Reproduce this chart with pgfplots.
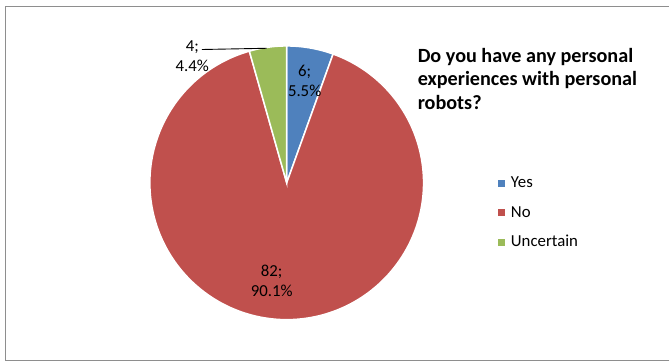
\documentclass[border=0pt]{standalone}
\usepackage{pgfplots}
\usepackage{pgfplotstable}
\pgfplotsset{compat=1.18}
\usepackage{fontspec}
\setmainfont{Carlito}
\definecolor{cyes}{HTML}{4F81BD}
\definecolor{cno}{HTML}{C0504D}
\definecolor{cunc}{HTML}{9BBB59}
\definecolor{frame}{HTML}{8E8E8E}

\pgfplotstableread{
label count pct
Yes 6 5.5
No 82 90.1
Uncertain 4 4.4
}\piedata

\begin{document}
\begin{tikzpicture}[x=1pt,y=1pt]
\path (0,0) rectangle (670,363);
\draw[color=frame, line width=1.4pt] (670,2) -- (5.5,2) -- (5.5,356.5) -- (670,356.5);
\pgfplotstablegetelem{0}{pct}\of\piedata \let\pa\pgfplotsretval
\pgfplotstablegetelem{1}{pct}\of\piedata \let\pb\pgfplotsretval
\pgfplotstablegetelem{2}{pct}\of\piedata \let\pc\pgfplotsretval
\pgfmathsetmacro{\aA}{90}
\pgfmathsetmacro{\aB}{90-3.6*\pa}
\pgfmathsetmacro{\aC}{\aB-3.6*\pb}
\pgfmathsetmacro{\aD}{\aC-3.6*\pc}
\begin{axis}[at={(150pt,43pt)}, anchor=south west, scale only axis,
  width=274pt, height=274pt, xmin=-1, xmax=1, ymin=-1, ymax=1,
  hide axis, clip=false,
  legend image code/.code={\fill[#1,draw=none] (0pt,-3.5pt) rectangle (7pt,3.5pt);},
  legend style={draw=none, fill=none, at={(1.273,0.3905)}, anchor=west,
    inner sep=0pt, row sep=12.5pt,
    font=\fontsize{16.8}{19}\selectfont,
    nodes={inner xsep=5.5pt, inner ysep=1pt, text height=12pt, text depth=3pt}},
  legend cell align=left]
\addplot[fill=cyes, draw=white, line width=1.5pt, domain=\aB:\aA, samples=60, variable=\t]
  ({cos(\t)},{sin(\t)}) -- (axis cs:0,0) -- cycle;
\addplot[fill=cno, draw=white, line width=1.5pt, domain=\aC:\aB, samples=200, variable=\t]
  ({cos(\t)},{sin(\t)}) -- (axis cs:0,0) -- cycle;
\addplot[fill=cunc, draw=white, line width=1.5pt, domain=\aD:\aC, samples=60, variable=\t]
  ({cos(\t)},{sin(\t)}) -- (axis cs:0,0) -- cycle;
\legend{Yes,No,Uncertain}
\node[align=center, font=\fontsize{16.8}{20.5}\selectfont, inner sep=0pt] at (axis cs:0.131,0.743) {6;\\5.5\%};
\node[align=center, font=\fontsize{16.8}{20.5}\selectfont, inner sep=0pt] at (axis cs:-0.11,-0.715) {82;\\90.1\%};
\node[align=center, font=\fontsize{16.8}{20.5}\selectfont, inner sep=0pt] at (axis cs:-0.69,0.927) {4;\\4.4\%};
\draw[black, line width=0.9pt] (axis cs:-0.620,0.974) -- (axis cs:-0.146,0.983);
\end{axis}
\begin{scope}[every node/.style={anchor=base west, inner sep=0pt, font=\bfseries\fontsize{20.2}{23.3}\selectfont}]
\node at (418,300.3) {Do you have any personal};
\node at (418,277) {experiences with personal};
\node at (418,253.7) {robots?};
\end{scope}
\end{tikzpicture}
\end{document}
